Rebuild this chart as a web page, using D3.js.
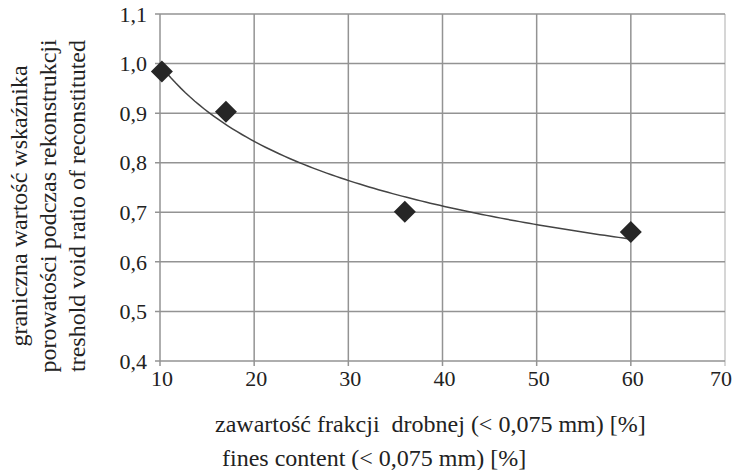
<!DOCTYPE html>
<html>
<head>
<meta charset="utf-8">
<script src="https://cdn.jsdelivr.net/npm/d3@7"></script>
<style>
  body { margin: 0; background: #fff; }
</style>
</head>
<body>
<svg id="chart" width="733" height="470"></svg>
<script>
// measured points
var finesContent = [10.2, 17, 36, 60];
var voidRatio = [0.984, 0.903, 0.701, 0.66];

var xTicks = [10, 20, 30, 40, 50, 60, 70];
var yTicks = [0.4, 0.5, 0.6, 0.7, 0.8, 0.9, 1.0, 1.1];

var yTitleLines = [
  "graniczna wartość wskaźnika",
  "porowatości podczas rekonstrukcji",
  "treshold void ratio of reconstituted"
];
var xTitleLines = [
  "zawartość frakcji  drobnej (< 0,075 mm) [%]",
  "fines content (< 0,075 mm) [%]"
];

var serif = "Liberation Serif, DejaVu Serif, serif";

var svg = d3.select("#chart");

var x = d3.scaleLinear().domain([10, 70]).range([160, 725]);
var y = d3.scaleLinear().domain([0.4, 1.1]).range([361, 14]);

var fmt = function(d) { return d3.format(".1f")(d).replace(".", ","); };

// grid
svg.append("g").selectAll("line")
    .data(xTicks)
  .enter().append("line")
    .attr("x1", d => x(d)).attr("x2", d => x(d))
    .attr("y1", y(1.1)).attr("y2", y(0.4) + 5)
    .attr("stroke", d => d == 70 ? "#c8c8c8" : "#939393")
    .attr("stroke-width", 1.5);

svg.append("g").selectAll("line")
    .data(yTicks)
  .enter().append("line")
    .attr("x1", x(10) - 5).attr("x2", x(70))
    .attr("y1", d => y(d)).attr("y2", d => y(d))
    .attr("stroke", "#939393")
    .attr("stroke-width", 1.5);

// tick labels
svg.append("g").selectAll("text")
    .data(yTicks)
  .enter().append("text")
    .attr("x", 147)
    .attr("y", d => y(d))
    .attr("dy", "0.35em")
    .attr("text-anchor", "end")
    .style("font-family", serif)
    .style("font-size", "22px")
    .attr("fill", "#222")
    .text(fmt);

svg.append("g").selectAll("text")
    .data(xTicks)
  .enter().append("text")
    .attr("x", d => d == 70 ? 732 : x(d) + 2)
    .attr("y", 386)
    .attr("text-anchor", d => d == 70 ? "end" : "middle")
    .style("font-family", serif)
    .style("font-size", "22px")
    .attr("fill", "#222")
    .text(d => d);

// power trendline fitted to the points (least squares on ln x, ln y)
var lx = finesContent.map(Math.log);
var ly = voidRatio.map(Math.log);
var mx = d3.mean(lx), my = d3.mean(ly);
var b = d3.sum(lx, (v, i) => (v - mx) * (ly[i] - my)) / d3.sum(lx, v => (v - mx) * (v - mx));
var a = Math.exp(my - b * mx);
var trend = d3.range(finesContent[0], 60.01, 0.5).map(v => [v, a * Math.pow(v, b)]);

svg.append("path")
    .datum(trend)
    .attr("fill", "none")
    .attr("stroke", "#444")
    .attr("stroke-width", 1.5)
    .attr("d", d3.line().x(d => x(d[0])).y(d => y(d[1])));

// diamonds
svg.append("g").selectAll("path")
    .data(finesContent)
  .enter().append("path")
    .attr("transform", (d, i) => "translate(" + x(d) + "," + y(voidRatio[i]) + ")")
    .attr("d", "M0,-11L11,0L0,11L-11,0Z")
    .attr("fill", "#262626");

// axis titles
svg.append("g").selectAll("text")
    .data(xTitleLines)
  .enter().append("text")
    .attr("x", (d, i) => i == 0 ? 215 : 222)
    .attr("y", (d, i) => 432 + i * 34)
    .style("font-family", serif)
    .style("font-size", "24px")
    .attr("fill", "#222")
    .style("white-space", "pre")
    .text(d => d);

svg.append("g").selectAll("text")
    .data(yTitleLines)
  .enter().append("text")
    .attr("transform", (d, i) => "translate(" + (27 + i * 29) + ",206) rotate(-90)")
    .attr("text-anchor", "middle")
    .style("font-family", serif)
    .style("font-size", "24px")
    .attr("fill", "#222")
    .text(d => d);
</script>
</body>
</html>
